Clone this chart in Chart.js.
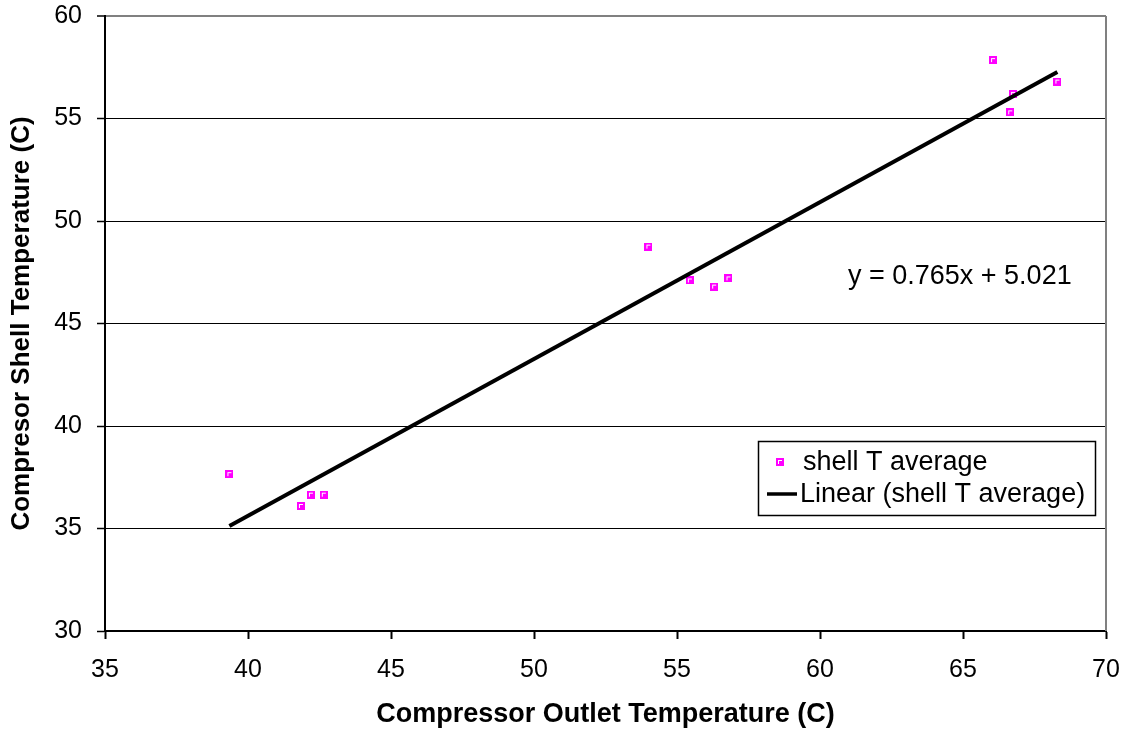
<!DOCTYPE html>
<html>
<head>
<meta charset="utf-8">
<script src="https://cdn.jsdelivr.net/npm/chart.js@4.4.0/dist/chart.umd.min.js"></script>
<style>
  html, body { margin: 0; padding: 0; background: #fff; }
  #wrap { width: 1131px; height: 731px; }
</style>
</head>
<body>
<div id="wrap"><canvas id="shellChart"></canvas></div>
<script>
// measured points: compressor outlet T vs shell T average
var outletTemp = [39.35, 41.85, 42.2, 42.65, 54.0, 55.45, 56.3, 56.8, 66.05, 66.75, 66.65, 68.3];
var shellTemp  = [37.65, 36.1, 36.65, 36.65, 48.75, 47.1, 46.8, 47.2, 57.85, 56.2, 55.3, 56.8];
var fitSlope = [0.765];
var fitIntercept = [5.021];
var xTicks = [35, 40, 45, 50, 55, 60, 65, 70];
var yTicks = [30, 35, 40, 45, 50, 55, 60];
var seriesNames = ['shell T average', 'Linear (shell T average)'];
var equationText = 'y = 0.765x + 5.021';

var font = '"Liberation Sans", Arial, sans-serif';

// marker: magenta square with small white corner
function makeMarker() {
    var c = document.createElement('canvas');
    c.width = 8; c.height = 8;
    var g = c.getContext('2d');
    g.fillStyle = '#ff00ff';
    g.fillRect(0, 0, 8, 8);
    g.fillStyle = '#ffffff';
    g.fillRect(2, 2, 4, 1);
    g.fillRect(2, 2, 1, 4);
    return c;
}
var marker = makeMarker();

var points = outletTemp.map(function (x, i) { return { x: x, y: shellTemp[i] }; });
var xMin = Math.min.apply(null, outletTemp);
var xMax = Math.max.apply(null, outletTemp);
var fitLine = [xMin, xMax].map(function (x) {
    return { x: x, y: fitSlope[0] * x + fitIntercept[0] };
});

var extras = {
    id: 'extras',
    afterDraw: function (chart) {
        var c = chart.ctx, a = chart.chartArea;
        c.save();
        // gray right frame
        c.strokeStyle = '#808080';
        c.lineWidth = 2;
        c.beginPath();
        c.moveTo(a.right, a.top);
        c.lineTo(a.right, a.bottom);
        c.stroke();

        // equation
        c.fillStyle = '#000';
        c.font = '27px ' + font;
        c.textAlign = 'left';
        c.textBaseline = 'middle';
        c.fillText(equationText, 848, 277);

        // legend box
        var lx = 758, ly = 441, lw = 337, lh = 74;
        c.fillStyle = '#fff';
        c.fillRect(lx, ly, lw, lh);
        c.strokeStyle = '#000';
        c.lineWidth = 1.5;
        c.strokeRect(lx + 0.5, ly + 0.5, lw, lh);
        c.drawImage(marker, 776, 458);
        c.fillStyle = '#000';
        c.fillText(seriesNames[0], 803, 463);
        c.lineWidth = 3.5;
        c.beginPath();
        c.moveTo(767, 494);
        c.lineTo(797, 494);
        c.stroke();
        c.fillText(seriesNames[1], 800, 495);
        c.restore();
    }
};

new Chart(document.getElementById('shellChart'), {
    type: 'scatter',
    data: {
        datasets: [{
            label: seriesNames[0],
            data: points,
            pointStyle: marker,
            pointRadius: 4,
            pointHoverRadius: 4,
            order: 2
        }, {
            label: seriesNames[1],
            data: fitLine,
            showLine: true,
            borderColor: '#000',
            borderWidth: 4,
            pointRadius: 0,
            pointHoverRadius: 0,
            order: 1
        }]
    },
    options: {
        responsive: true,
        maintainAspectRatio: false,
        animation: false,
        layout: { padding: { top: 16, right: 25, left: 0, bottom: 0 } },
        plugins: { legend: { display: false }, tooltip: { enabled: false } },
        scales: {
            x: {
                type: 'linear',
                min: 35, max: 70,
                afterBuildTicks: function (s) { s.ticks = xTicks.map(function (v) { return { value: v }; }); },
                afterFit: function (s) { s.height = 100; s.paddingLeft = 0; s.paddingRight = 0; },
                grid: { drawOnChartArea: false, drawTicks: true, tickLength: 8, tickColor: '#000', tickWidth: 2 },
                border: { color: '#000', width: 2 },
                ticks: { color: '#000', font: { family: font, size: 25 }, padding: 16, maxRotation: 0 },
                title: {
                    display: true,
                    text: 'Compressor Outlet Temperature (C)',
                    color: '#000',
                    font: { family: font, size: 27, weight: 'bold' },
                    padding: { top: 0, bottom: 0 }
                }
            },
            y: {
                min: 30, max: 60,
                afterBuildTicks: function (s) { s.ticks = yTicks.map(function (v) { return { value: v }; }); },
                afterFit: function (s) { s.width = 105; s.paddingTop = 0; s.paddingBottom = 0; },
                grid: {
                    color: function (ctx) { return ctx.tick && ctx.tick.value === 60 ? '#808080' : '#000'; },
                    lineWidth: function (ctx) { return ctx.tick && ctx.tick.value === 60 ? 2 : 1; },
                    tickColor: '#000',
                    tickLength: 8,
                    tickWidth: 1.5
                },
                border: { color: '#000', width: 2 },
                ticks: { color: '#000', font: { family: font, size: 25 }, padding: 15 },
                title: {
                    display: true,
                    text: 'Compresor Shell Temperature (C)',
                    color: '#000',
                    font: { family: font, size: 26, weight: 'bold' },
                    padding: { top: 6, bottom: 0 }
                }
            }
        }
    },
    plugins: [extras]
});
</script>
</body>
</html>
